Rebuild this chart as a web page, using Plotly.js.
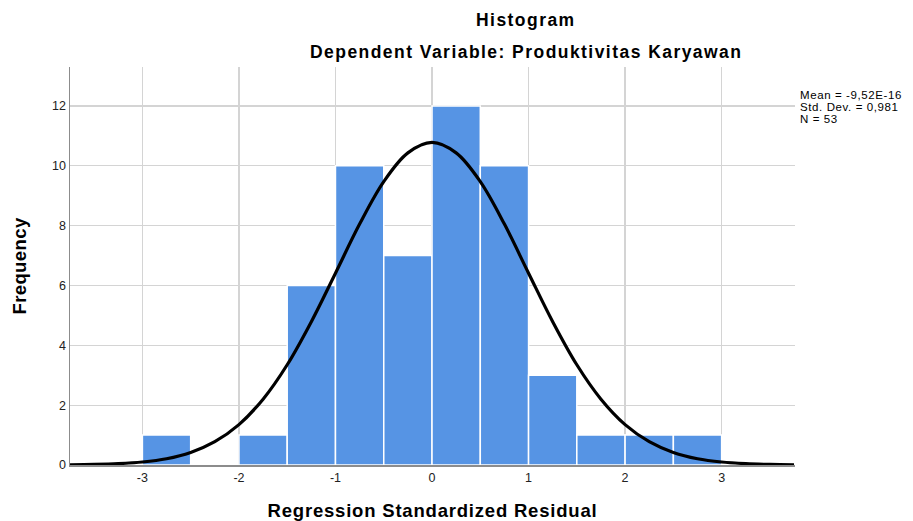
<!DOCTYPE html>
<html>
<head>
<meta charset="utf-8">
<script src="https://cdn.plot.ly/plotly-3.0.1.min.js"></script>
<style>html,body{margin:0;padding:0;background:#fff;}#chart{width:913px;height:521px;}</style>
</head>
<body>
<div id="chart"></div>
<script>
// Histogram bins (centers) and frequencies
const binCenters = [-2.75, -2.25, -1.75, -1.25, -0.75, -0.25, 0.25, 0.75, 1.25, 1.75, 2.25, 2.75];
const frequencies = [1, 0, 1, 6, 10, 7, 12, 10, 3, 1, 1, 1];
const binWidth = 0.5;

// Normal curve values (Mean ~0, SD 0.981, N 53)
const curveX = [-3.75,-3.5,-3.25,-3,-2.75,-2.5,-2.25,-2,-1.75,-1.5,-1.25,-1,-0.75,-0.5,-0.25,0,0.25,0.5,0.75,1,1.25,1.5,1.75,2,2.25,2.5,2.75,3,3.25,3.5,3.75];
const curveY = [0.007,0.019,0.045,0.10,0.21,0.42,0.78,1.35,2.20,3.35,4.79,6.41,8.05,9.47,10.43,10.78,10.43,9.47,8.05,6.41,4.79,3.35,2.20,1.35,0.78,0.42,0.21,0.10,0.045,0.019,0.007];

const xTicks = [-3, -2, -1, 0, 1, 2, 3];
const yTicks = [0, 2, 4, 6, 8, 10, 12];
const statsLines = ["Mean = -9,52E-16", "Std. Dev. = 0,981", "N = 53"];
const titleText = "Histogram";
const subtitleText = "Dependent Variable: Produktivitas Karyawan";
const xTitle = "Regression Standardized Residual";
const yTitle = "Frequency";

const font = "Arial, 'Liberation Sans', sans-serif";
const sp = (t, ls) => '<span style="letter-spacing:' + ls + 'px">' + t + '</span>';

const traces = [
  {
    type: 'bar', x: binCenters, y: frequencies, width: binWidth,
    marker: {color: '#5694E4', line: {color: '#ffffff', width: 1.5}},
    hoverinfo: 'x+y', showlegend: false
  },
  {
    type: 'scatter', mode: 'lines', x: curveX, y: curveY,
    line: {color: '#000000', width: 3.2, shape: 'spline', smoothing: 1},
    showlegend: false, cliponaxis: true
  }
];

const annotations = [
  {text: sp(titleText, 1.45), xref: 'paper', yref: 'paper', x: 0.629, y: 1, yshift: 47, showarrow: false,
   font: {size: 17.5, family: font, weight: 'bold', color: '#000'}, xanchor: 'center', yanchor: 'middle'},
  {text: sp(subtitleText, 1.45), xref: 'paper', yref: 'paper', x: 0.629, y: 1, yshift: 15, showarrow: false,
   font: {size: 17.5, family: font, weight: 'bold', color: '#000'}, xanchor: 'center', yanchor: 'middle'}
];
statsLines.forEach((s, i) => {
  annotations.push({text: sp(s, 0.6), xref: 'paper', yref: 'paper', x: 1, xshift: 4, y: 1, yshift: -28 - i * 12,
    showarrow: false, align: 'left', xanchor: 'left', yanchor: 'middle', borderpad: 0,
    font: {size: 11.5, family: font, color: '#000'}});
});

const layout = {
  width: 913, height: 521,
  margin: {l: 70, r: 118, t: 67, b: 56},
  paper_bgcolor: '#ffffff', plot_bgcolor: '#ffffff',
  bargap: 0,
  font: {family: font, color: '#000'},
  xaxis: {
    range: [-3.75, 3.76], tickvals: xTicks, ticktext: xTicks.map(String),
    showgrid: true, gridcolor: '#d4d4d4', gridwidth: 1.3,
    zeroline: false, showline: true, linecolor: '#8c8c8c', linewidth: 1.5,
    ticks: '', tickfont: {size: 12.5, color: '#222'},
    title: {text: sp(xTitle, 0.8), font: {size: 18.5, family: font, color: '#000', weight: 'bold'}, standoff: 22}
  },
  yaxis: {
    range: [0, 13.3], tickvals: yTicks, ticktext: yTicks.map(String),
    showgrid: true, gridcolor: '#d4d4d4', gridwidth: 1.3,
    zeroline: false, showline: true, linecolor: '#8c8c8c', linewidth: 1.5,
    ticks: '', tickfont: {size: 12.5, color: '#222'},
    title: {text: sp(yTitle, 0.4), font: {size: 18.5, family: font, color: '#000', weight: 'bold'}, standoff: 20}
  },
  annotations: annotations
};

Plotly.newPlot('chart', traces, layout, {displayModeBar: false, staticPlot: true});
</script>
</body>
</html>
